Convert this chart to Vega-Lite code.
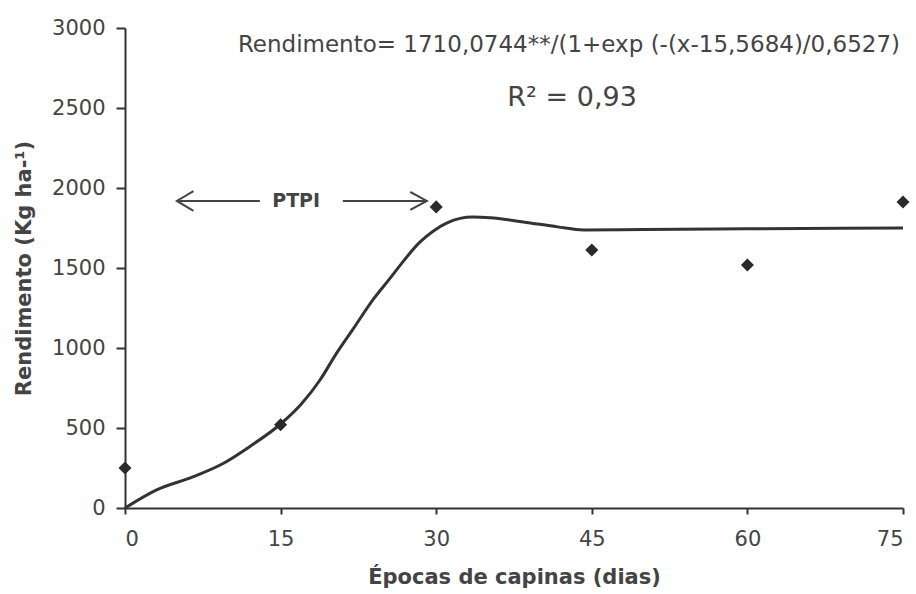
{
  "$schema": "https://vega.github.io/schema/vega-lite/v6.json",
  "autosize": "none",
  "width": 778,
  "height": 480,
  "padding": {"left": 125, "top": 28, "right": 13, "bottom": 86},
  "background": "white",
  "config": {
    "view": {"stroke": null},
    "font": "DejaVu Sans"
  },
  "datasets": {
    "obs": [
      {"x": 0, "y": 250},
      {"x": 15, "y": 520},
      {"x": 30, "y": 1882},
      {"x": 45, "y": 1612},
      {"x": 60, "y": 1519},
      {"x": 75, "y": 1912}
    ],
    "fit": [
      {"x": 0, "y": 0},
      {"x": 3, "y": 112},
      {"x": 6.6, "y": 196},
      {"x": 9.5, "y": 280},
      {"x": 12, "y": 383},
      {"x": 15, "y": 525},
      {"x": 17, "y": 650},
      {"x": 18.8, "y": 800},
      {"x": 20.4, "y": 968},
      {"x": 22, "y": 1120},
      {"x": 24, "y": 1310},
      {"x": 25.6, "y": 1440},
      {"x": 26.5, "y": 1515},
      {"x": 28.4, "y": 1660},
      {"x": 29.7, "y": 1730},
      {"x": 31, "y": 1780},
      {"x": 32.3, "y": 1810},
      {"x": 33.5, "y": 1818},
      {"x": 35.2, "y": 1814},
      {"x": 38.4, "y": 1788},
      {"x": 41.7, "y": 1757},
      {"x": 44.2, "y": 1737},
      {"x": 50, "y": 1740},
      {"x": 60, "y": 1745},
      {"x": 75, "y": 1750}
    ],
    "arrows": [
      {"g": "L", "o": 1, "x": 13.0, "y": 1919},
      {"g": "L", "o": 2, "x": 5.0, "y": 1919},
      {"g": "LH", "o": 1, "x": 6.6, "y": 1981},
      {"g": "LH", "o": 2, "x": 5.0, "y": 1919},
      {"g": "LH", "o": 3, "x": 6.6, "y": 1857},
      {"g": "R", "o": 1, "x": 21.0, "y": 1919},
      {"g": "R", "o": 2, "x": 29.1, "y": 1919},
      {"g": "RH", "o": 1, "x": 27.5, "y": 1975},
      {"g": "RH", "o": 2, "x": 29.1, "y": 1919},
      {"g": "RH", "o": 3, "x": 27.5, "y": 1863}
    ]
  },
  "layer": [
    {
      "data": {"name": "fit"},
      "mark": {"type": "line", "color": "#333", "strokeWidth": 3, "interpolate": "monotone"},
      "encoding": {
        "x": {
          "field": "x", "type": "quantitative",
          "scale": {"domain": [0, 75], "nice": false},
          "axis": {"values": [0, 15, 30, 45, 60, 75], "format": "d", "grid": false, "domainColor": "#333", "domainWidth": 2, "tickColor": "#333", "tickWidth": 2, "tickSize": 6, "labelPadding": 14, "labelFont": "DejaVu Sans", "labelFontSize": 21, "labelColor": "#444", "title": "Épocas de capinas (dias)", "titleFont": "DejaVu Sans", "titleFontSize": 21, "titleFontWeight": "bold", "titleColor": "#444", "titlePadding": 17}
        },
        "y": {
          "field": "y", "type": "quantitative",
          "scale": {"domain": [0, 3000], "nice": false},
          "axis": {"values": [0, 500, 1000, 1500, 2000, 2500, 3000], "format": "d", "grid": false, "domainColor": "#333", "domainWidth": 2, "tickColor": "#333", "tickWidth": 2, "tickSize": 9, "labelPadding": 11, "labelFont": "DejaVu Sans", "labelFontSize": 21, "labelColor": "#444", "title": "Rendimento (Kg ha-¹)", "titleFont": "DejaVu Sans", "titleFontSize": 21, "titleFontWeight": "bold", "titleColor": "#444", "titlePadding": 17}
        }
      }
    },
    {
      "data": {"name": "obs"},
      "mark": {"type": "point", "shape": "diamond", "filled": true, "color": "#2a2a2a", "size": 170, "opacity": 1},
      "encoding": {
        "x": {"field": "x", "type": "quantitative"},
        "y": {"field": "y", "type": "quantitative"}
      }
    },
    {
      "data": {"name": "arrows"},
      "mark": {"type": "line", "color": "#444", "strokeWidth": 2},
      "encoding": {
        "x": {"field": "x", "type": "quantitative"},
        "y": {"field": "y", "type": "quantitative"},
        "detail": {"field": "g"},
        "order": {"field": "o"}
      }
    },
    {
      "data": {"values": [{"x": 16.5, "y": 1919, "t": "PTPI"}]},
      "mark": {"type": "text", "fontSize": 19, "fontWeight": "bold", "color": "#444", "align": "center", "baseline": "middle"},
      "encoding": {
        "x": {"field": "x", "type": "quantitative"},
        "y": {"field": "y", "type": "quantitative"},
        "text": {"field": "t"}
      }
    },
    {
      "data": {"values": [{"x": 42.8, "y": 2894, "t": "Rendimento= 1710,0744**/(1+exp (-(x-15,5684)/0,6527)"}]},
      "mark": {"type": "text", "fontSize": 23, "color": "#444", "align": "center", "baseline": "middle"},
      "encoding": {
        "x": {"field": "x", "type": "quantitative"},
        "y": {"field": "y", "type": "quantitative"},
        "text": {"field": "t"}
      }
    },
    {
      "data": {"values": [{"x": 43.1, "y": 2562, "t": "R² = 0,93"}]},
      "mark": {"type": "text", "fontSize": 27, "color": "#444", "align": "center", "baseline": "middle"},
      "encoding": {
        "x": {"field": "x", "type": "quantitative"},
        "y": {"field": "y", "type": "quantitative"},
        "text": {"field": "t"}
      }
    }
  ]
}
